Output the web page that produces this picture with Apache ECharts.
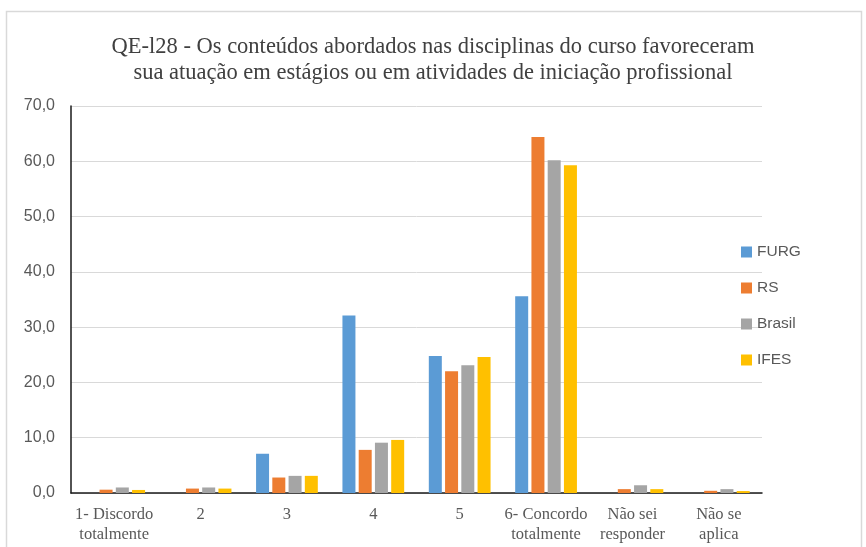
<!DOCTYPE html>
<html>
<head>
<meta charset="utf-8">
<script src="https://cdn.jsdelivr.net/npm/echarts@6/dist/echarts.min.js"></script>
<style>
html,body{margin:0;padding:0;background:#fff;}
#c{width:866px;height:547px;}
</style>
</head>
<body>
<div id="c"></div>
<script>
var categories = ['1- Discordo\ntotalmente', '2', '3', '4', '5', '6- Concordo\ntotalmente', 'Não sei\nresponder', 'Não se\naplica'];
var seriesNames = ['FURG', 'RS', 'Brasil', 'IFES'];
var furg   = [null, null, 7.1, 32.1, 24.8, 35.6, null, null];
var rs     = [0.6, 0.8, 2.8, 7.8, 22.0, 64.4, 0.7, 0.4];
var brasil = [1.0, 1.0, 3.1, 9.1, 23.1, 60.2, 1.4, 0.7];
var ifes   = [0.55, 0.8, 3.1, 9.6, 24.6, 59.3, 0.7, 0.35];
var colors = ['#5b9bd5', '#ed7d31', '#a5a5a5', '#ffc000'];
var titleText = 'QE-l28 - Os conteúdos abordados nas disciplinas do curso favoreceram\nsua atuação em estágios ou em atividades de iniciação profissional';

var chart = echarts.init(document.getElementById('c'), null, {renderer: 'canvas'});
var dataSets = [furg, rs, brasil, ifes];
var series = seriesNames.map(function (n, i) {
  return {
    name: n, type: 'bar', data: dataSets[i],
    barWidth: 13, barGap: '25%',
    itemStyle: {color: colors[i]},
    emphasis: {disabled: true}
  };
});
chart.setOption({
  animation: false,
  title: {
    text: titleText, left: 'center', top: 29,
    textStyle: {fontFamily: 'Liberation Serif', fontSize: 22.5, fontWeight: 'normal', color: '#404040', lineHeight: 26}
  },
  graphic: [{
    type: 'rect', shape: {x: 6.5, y: 11.5, width: 855, height: 560},
    style: {fill: 'none', stroke: '#d9d9d9', lineWidth: 1.5}, silent: true, z: -1
  }],
  legend: {
    orient: 'vertical', left: 741, top: 244, padding: 0, itemWidth: 11, itemHeight: 11, itemGap: 20,
    icon: 'rect',
    textStyle: {fontFamily: 'Liberation Sans', fontSize: 15.5, color: '#595959'},
    data: seriesNames
  },
  grid: {left: 71, right: 104, top: 106, bottom: 54, containLabel: false},
  xAxis: {
    type: 'category', data: categories,
    axisLine: {lineStyle: {color: '#1a1a1a', width: 1.5}},
    axisTick: {show: false},
    axisLabel: {fontFamily: 'Liberation Serif', fontSize: 16.5, color: '#595959', lineHeight: 20, margin: 12, interval: 0}
  },
  yAxis: {
    type: 'value', min: 0, max: 70, interval: 10,
    axisLine: {show: true, lineStyle: {color: '#1a1a1a', width: 1.5}}, axisTick: {show: false},
    splitLine: {lineStyle: {color: '#d9d9d9', width: 1}},
    axisLabel: {
      fontFamily: 'Liberation Sans', fontSize: 16, color: '#595959', margin: 16,
      formatter: function (v) { return v.toFixed(1).replace('.', ','); }
    }
  },
  series: series
});
</script>
</body>
</html>
